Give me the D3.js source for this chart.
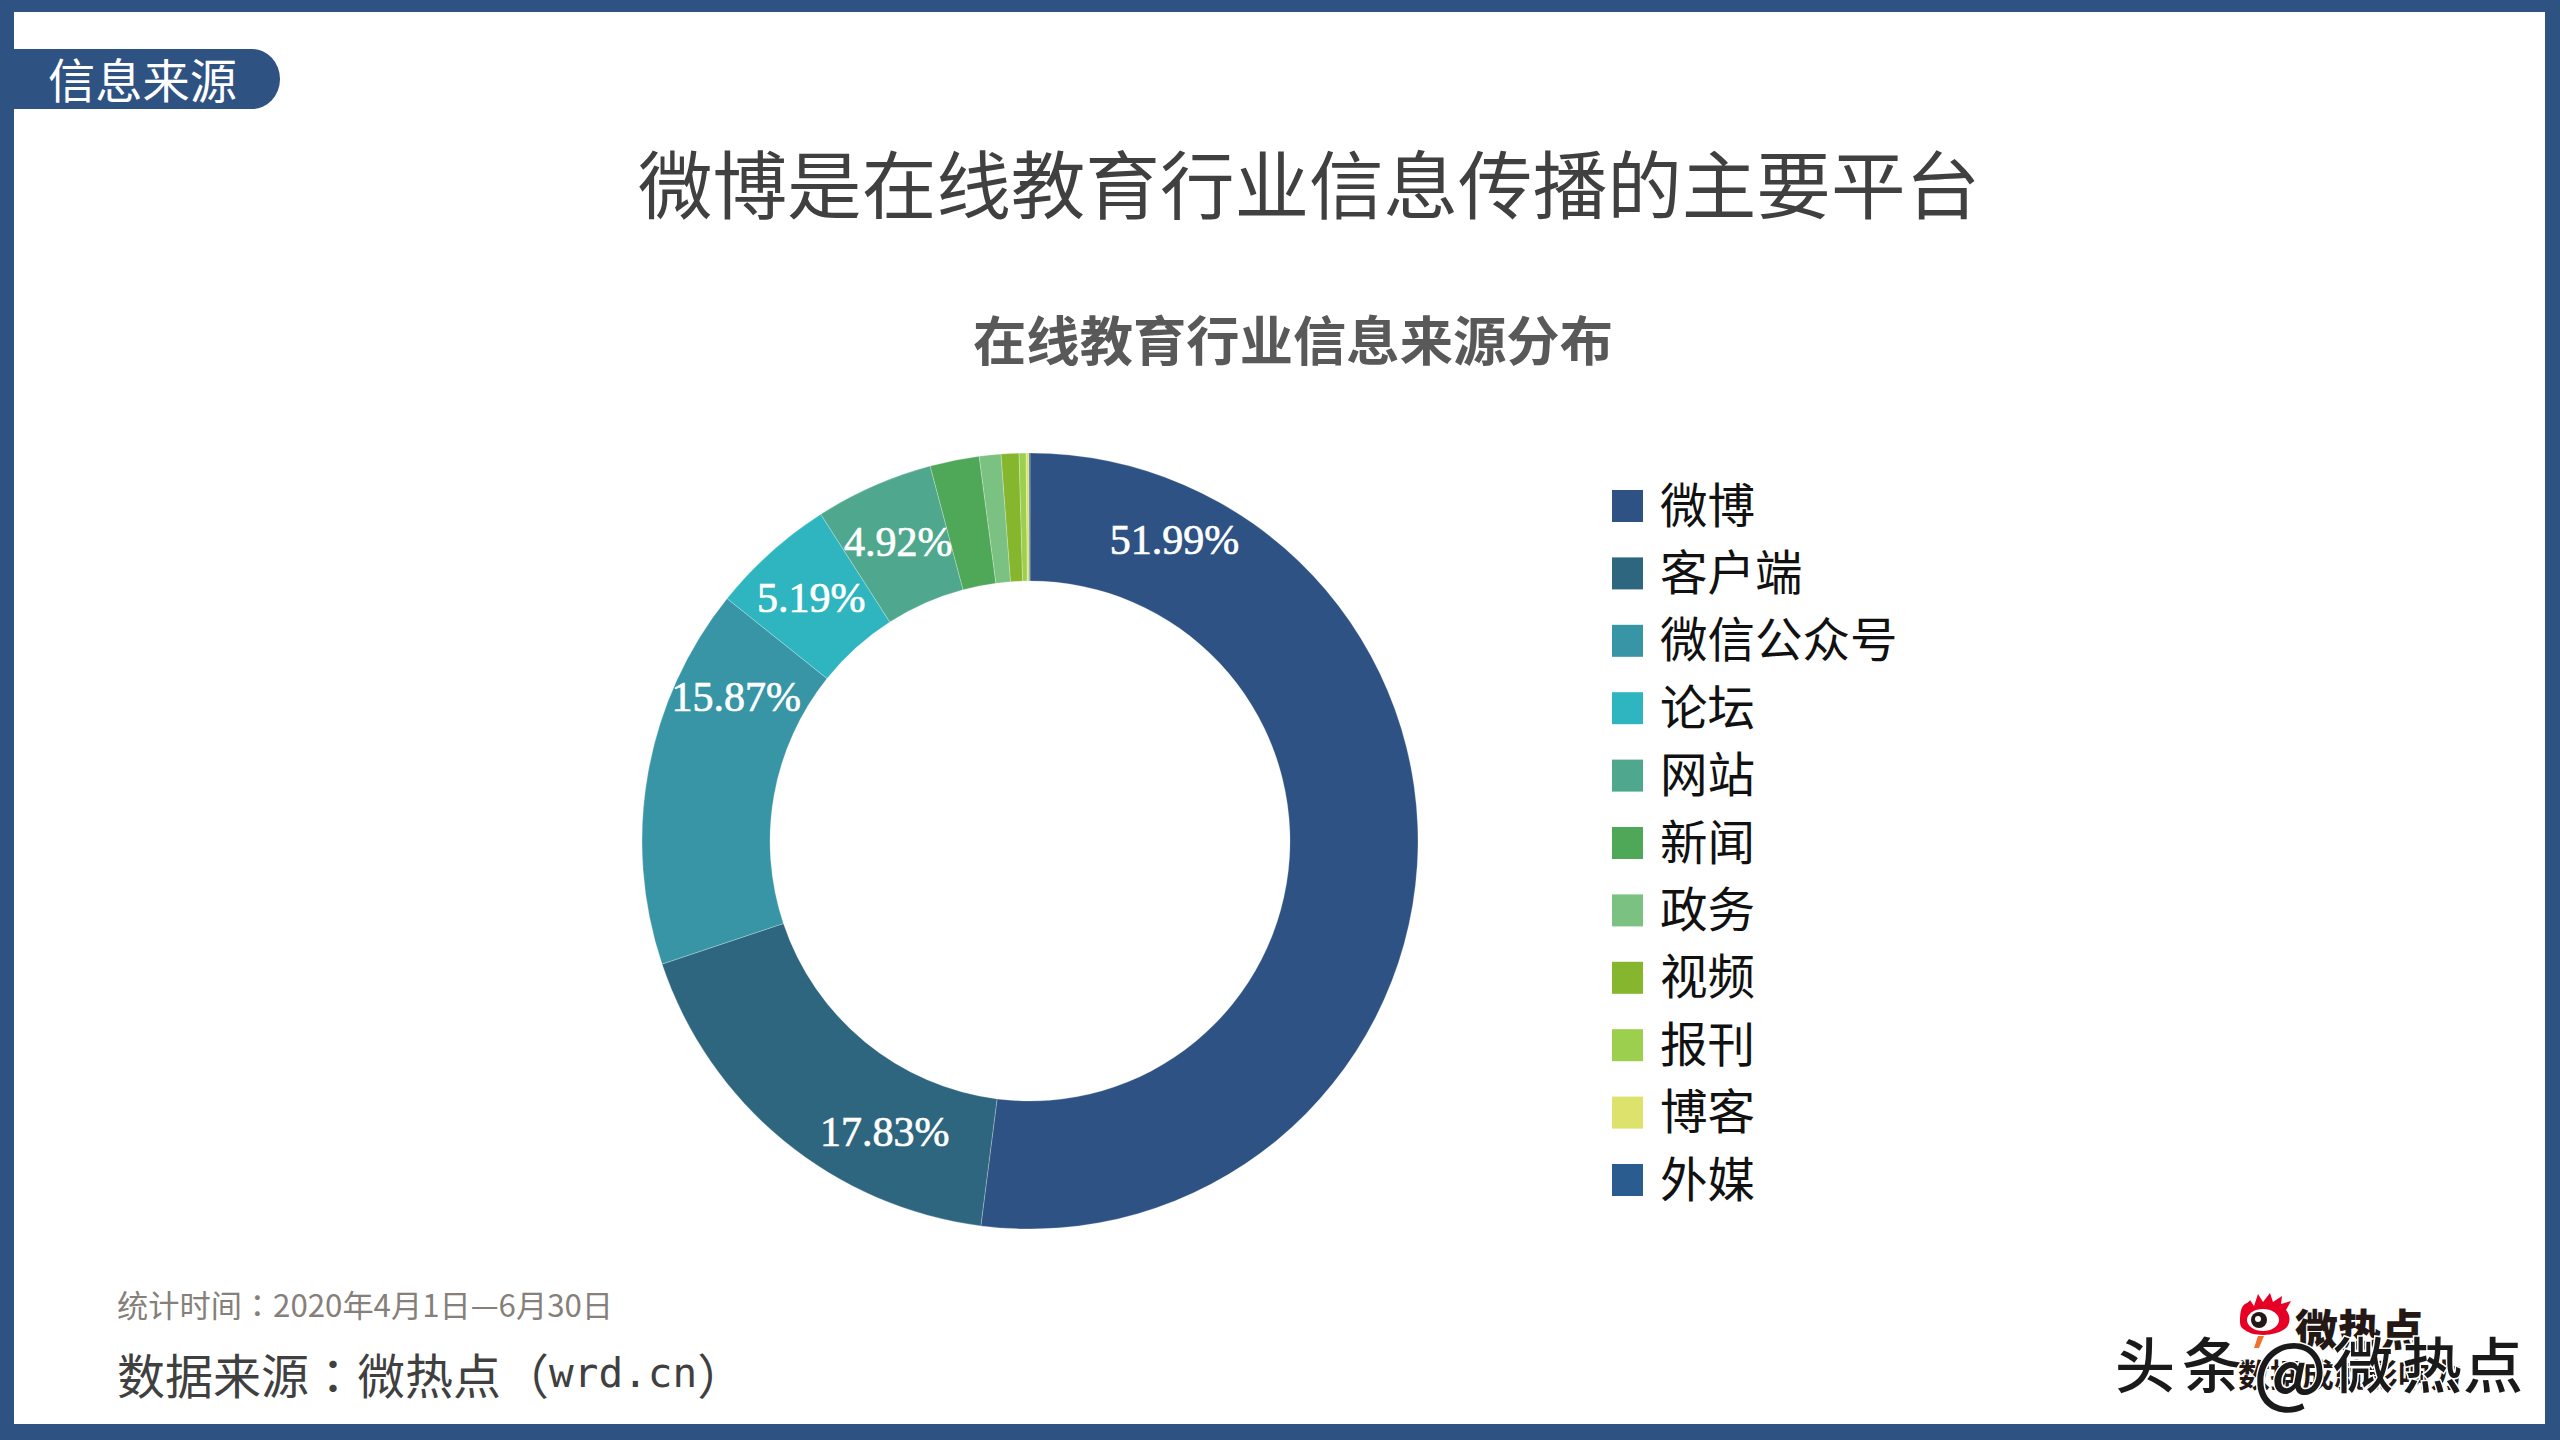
<!DOCTYPE html>
<html>
<head>
<meta charset="utf-8">
<script src="https://cdn.jsdelivr.net/npm/d3@7"></script>
<style>
html, body { margin: 0; padding: 0; background: #fff; }
svg text { font-family: "Noto Sans CJK SC", sans-serif; }
</style>
</head>
<body>
<svg id="view" width="2560" height="1440"></svg>
<script>
const Sources = ['微博', '客户端', '微信公众号', '论坛', '网站', '新闻', '政务', '视频', '报刊', '博客', '外媒'];
const Shares = [51.99, 17.83, 15.87, 5.19, 4.92, 2.05, 0.90, 0.74, 0.29, 0.12, 0.04];
const Colors = ['#2d5283', '#2e6680', '#3795a6', '#2fb5bf', '#4fa88d', '#4fa858', '#7bc181', '#86b52e', '#9ccf4d', '#dce26b', '#2a5c8f'];

const TitleText = '微博是在线教育行业信息传播的主要平台';
const ChartTitle = '在线教育行业信息来源分布';
const TagText = '信息来源';
const TimeNote = '统计时间：2020年4月1日—6月30日';

const FRAME = '#2e5282';
const svg = d3.select('svg#view');

function drawFrame() {
    svg.append('path')
        .attr('fill', FRAME)
        .attr('fill-rule', 'evenodd')
        .attr('d', 'M0 0H2560V1440H0Z M14 12V1424H2545V12Z');

    // 左上角标签
    svg.append('path')
        .attr('fill', FRAME)
        .attr('d', 'M14 49H252A28 30 0 0 1 252 109H14Z');
    svg.append('text')
        .attr('x', 48)
        .attr('y', 77)
        .attr('dominant-baseline', 'central')
        .attr('font-size', 47)
        .attr('fill', '#fff')
        .attr('textLength', 189)
        .attr('lengthAdjust', 'spacingAndGlyphs')
        .text(TagText);
}

function drawTitles() {
    svg.append('text')
        .attr('x', 638)
        .attr('y', 180)
        .attr('dominant-baseline', 'central')
        .attr('font-size', 74)
        .attr('fill', '#404040')
        .attr('textLength', 1342)
        .attr('lengthAdjust', 'spacingAndGlyphs')
        .text(TitleText);
    svg.append('text')
        .attr('x', 973)
        .attr('y', 338)
        .attr('dominant-baseline', 'central')
        .attr('font-size', 53)
        .attr('font-weight', 700)
        .attr('fill', '#595959')
        .attr('textLength', 640)
        .attr('lengthAdjust', 'spacingAndGlyphs')
        .text(ChartTitle);
}

function drawDonut() {
    const cx = 1030, cy = 841;
    const outer = 388, inner = 260;
    const color = d3.scaleOrdinal().domain(Sources).range(Colors);

    const pie = d3.pie()
        .sort(null)
        .value(function(d, i) { return Shares[i]; });
    const arc = d3.arc().innerRadius(inner).outerRadius(outer);

    const g = svg.append('g').attr('transform', 'translate(' + cx + ',' + cy + ')');
    const slices = pie(Sources);

    g.selectAll('path')
        .data(slices)
        .enter()
        .append('path')
        .attr('d', arc)
        .attr('fill', function(d) { return color(d.data); })
        .attr('stroke', '#fff')
        .attr('stroke-opacity', 0.25)
        .attr('stroke-width', 1);

    // 标签不一定在扇区中线上，这里按扇区内的比例和半径摆放
    const labelSpot = [0.137, 0.30, 0.78, 0.5, 0.5];
    const labelRadius = [334, 325, 327, 327, 327];
    g.selectAll('text')
        .data(slices.slice(0, labelSpot.length))
        .enter()
        .append('text')
        .attr('transform', function(d, i) {
            const a = d.startAngle + (d.endAngle - d.startAngle) * labelSpot[i];
            return 'translate(' + (Math.sin(a) * labelRadius[i]) + ',' + (-Math.cos(a) * labelRadius[i]) + ')';
        })
        .attr('text-anchor', 'middle')
        .attr('dominant-baseline', 'central')
        .style('font-family', '"Liberation Serif", serif')
        .attr('font-size', 42)
        .attr('fill', '#fff')
        .attr('stroke', '#fff')
        .attr('stroke-width', 0.7)
        .text(function(d, i) { return Shares[i].toFixed(2) + '%'; });
}

function drawLegend() {
    const y = d3.scalePoint()
        .domain(Sources)
        .range([506, 1180]);
    const color = d3.scaleOrdinal().domain(Sources).range(Colors);

    const items = svg.append('g')
        .selectAll('g')
        .data(Sources)
        .enter()
        .append('g')
        .attr('transform', function(d) { return 'translate(1612,' + y(d) + ')'; });
    items.append('rect')
        .attr('y', -16)
        .attr('width', 31)
        .attr('height', 32)
        .attr('fill', function(d) { return color(d); });
    items.append('text')
        .attr('x', 48)
        .attr('y', -4)
        .attr('dominant-baseline', 'central')
        .attr('font-size', 47.5)
        .attr('fill', '#111')
        .text(function(d) { return d; });
}

function drawNotes() {
    svg.append('text')
        .attr('x', 117)
        .attr('y', 1303)
        .attr('dominant-baseline', 'central')
        .attr('font-size', 31)
        .style('font-family', '"Noto Sans CJK TC", sans-serif')
        .attr('fill', '#85807a')
        .attr('textLength', 496)
        .attr('lengthAdjust', 'spacingAndGlyphs')
        .text(TimeNote);

    const source = svg.append('text')
        .attr('x', 117)
        .attr('y', 1373)
        .attr('dominant-baseline', 'central')
        .attr('font-size', 48)
        .style('font-family', '"Noto Sans CJK TC", sans-serif')
        .attr('fill', '#404040');
    source.append('tspan').text('数据来源：微热点（');
    source.append('tspan')
        .style('font-family', '"DejaVu Sans Mono", monospace')
        .attr('font-size', 41)
        .text('wrd.cn');
    source.append('tspan').text('）');
}

function drawMark() {
    const logo = svg.append('g');
    // 眼睛图标
    logo.append('path')
        .attr('fill', '#e60026')
        .attr('d', 'M2240 1322C2240 1300 2247 1306 2250 1300L2254 1306L2258 1294L2263 1302L2270 1293L2273 1302L2282 1296L2281 1304L2291 1301L2286 1310C2291 1316 2290 1322 2287 1327C2277 1337 2253 1337 2245 1330C2241 1328 2240 1325 2240 1322Z');
    logo.append('ellipse').attr('cx', 2263).attr('cy', 1320).attr('rx', 16).attr('ry', 11).attr('fill', '#fff');
    logo.append('circle').attr('cx', 2259).attr('cy', 1320).attr('r', 8).attr('fill', '#231815');
    logo.append('circle').attr('cx', 2258).attr('cy', 1319).attr('r', 3).attr('fill', '#fff');
    logo.append('path').attr('fill', '#f07030').attr('d', 'M2258 1336L2264 1336L2259 1348L2254 1348Z');

    logo.append('text')
        .attr('x', 2295)
        .attr('y', 1327)
        .attr('dominant-baseline', 'central')
        .attr('font-size', 43)
        .attr('font-weight', 900)
        .attr('fill', '#231815')
        .text('微热点');
    logo.append('text')
        .attr('x', 2238)
        .attr('y', 1373)
        .attr('dominant-baseline', 'central')
        .attr('font-size', 32)
        .attr('font-weight', 700)
        .attr('fill', '#231815')
        .text('数据成就影响力');

    // 水印盖在图标上
    const marks = ['头', '条', '@', '微', '热', '点'];
    const markX = [2145, 2212, 2290, 2363, 2432, 2493];
    svg.append('g')
        .selectAll('text')
        .data(marks)
        .enter()
        .append('text')
        .attr('x', function(d, i) { return markX[i]; })
        .attr('y', function(d) { return d === '@' ? 1366 : 1361; })
        .attr('text-anchor', 'middle')
        .attr('dominant-baseline', 'central')
        .attr('font-size', function(d) { return d === '@' ? 76 : 60; })
        .attr('font-weight', 500)
        .attr('fill', '#1a1a1a')
        .attr('stroke', '#fff')
        .attr('stroke-width', 3)
        .attr('paint-order', 'stroke')
        .text(function(d) { return d; });
}

function start() {
    drawFrame();
    drawTitles();
    drawDonut();
    drawLegend();
    drawNotes();
    drawMark();
}

start();
</script>
</body>
</html>
